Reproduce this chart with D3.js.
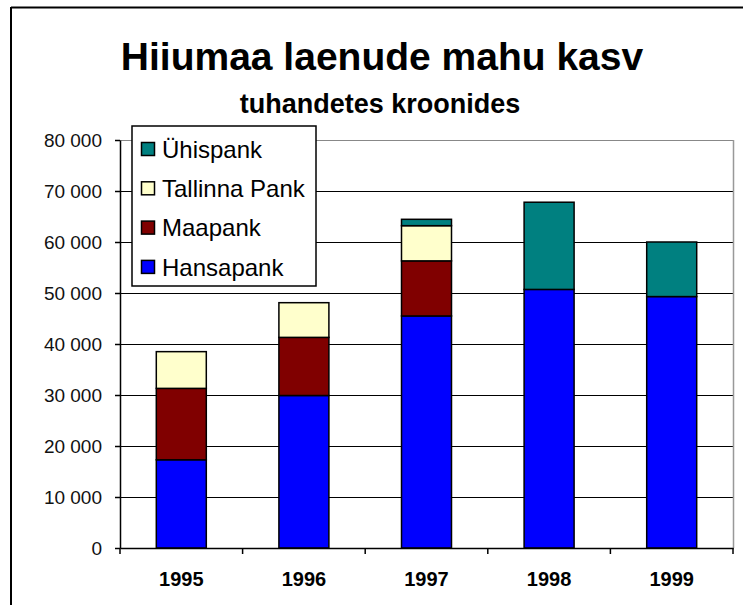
<!DOCTYPE html>
<html>
<head>
<meta charset="utf-8">
<script src="https://cdn.jsdelivr.net/npm/d3@7"></script>
<style>
  html, body { margin: 0; padding: 0; background: #fff; }
  svg { display: block; }
  text { font-family: "Liberation Sans", Arial, sans-serif; }
</style>
</head>
<body>
<svg id="chart" width="743" height="605"></svg>
<script>
const years = ["1995", "1996", "1997", "1998", "1999"];
const hansapank = [17300, 29900, 45500, 50700, 49300];
const maapank = [14000, 11400, 10800, 0, 0];
const tallinnaPank = [7200, 6800, 6900, 0, 0];
const yhispank = [0, 0, 1250, 17100, 10700];
const seriesNames = ["Hansapank", "Maapank", "Tallinna Pank", "Ühispank"];
const seriesColors = ["#0000ff", "#800000", "#ffffcc", "#008080"];
const yTicks = [0, 10000, 20000, 30000, 40000, 50000, 60000, 70000, 80000];
const titleText = "Hiiumaa laenude mahu kasv";
const subtitleText = "tuhandetes kroonides";

(function () {
const svg = d3.select("#chart");

// outer chart border (top and left visible)
svg.append("line").attr("x1", 11).attr("x2", 743).attr("y1", 7.5).attr("y2", 7.5)
  .attr("stroke", "#000").attr("stroke-width", 2);
svg.append("line").attr("x1", 11).attr("x2", 11).attr("y1", 7).attr("y2", 605)
  .attr("stroke", "#000").attr("stroke-width", 2);

const pLeft = 120, pRight = 733, pTop = 140, pBottom = 548;

const xOuter = d3.scaleBand().domain(years).range([pLeft, pRight]);
const y = d3.scaleLinear().domain([0, 80000]).range([pBottom, pTop]);

// gridlines
svg.append("g").selectAll("line").data(yTicks.filter(d => d > 0)).join("line")
  .attr("x1", pLeft).attr("x2", pRight)
  .attr("y1", d => Math.round(y(d)) + 0.5).attr("y2", d => Math.round(y(d)) + 0.5)
  .attr("stroke", d => d === 80000 ? "#888" : "#000").attr("stroke-width", 1.2);

// right plot border
svg.append("line").attr("x1", pRight + 0.5).attr("x2", pRight + 0.5).attr("y1", pTop).attr("y2", pBottom)
  .attr("stroke", "#999").attr("stroke-width", 1.5);

// stacked data
const rows = years.map((yr, i) => ({
  year: yr,
  "Hansapank": hansapank[i],
  "Maapank": maapank[i],
  "Tallinna Pank": tallinnaPank[i],
  "Ühispank": yhispank[i]
}));
const stack = d3.stack().keys(seriesNames)(rows);
const color = d3.scaleOrdinal().domain(seriesNames).range(seriesColors);

const bw = 50;
svg.append("g").selectAll("g").data(stack).join("g")
  .attr("fill", d => color(d.key))
  .selectAll("rect").data(d => d.filter(p => p[1] - p[0] > 0)).join("rect")
  .attr("x", d => xOuter(d.data.year) + xOuter.bandwidth() / 2 - bw / 2)
  .attr("width", bw)
  .attr("y", d => y(d[1]))
  .attr("height", d => y(d[0]) - y(d[1]))
  .attr("stroke", "#000").attr("stroke-width", 1.5);

// y axis
const yAxis = d3.axisLeft(y).tickValues(yTicks).tickSize(5).tickSizeOuter(0)
  .tickFormat(d => d3.format(",")(d).replace(/,/g, " "));
const ga = svg.append("g").attr("transform", `translate(${pLeft},0)`).call(yAxis);
ga.select(".domain").attr("stroke", "#000").attr("stroke-width", 1.5);
ga.selectAll(".tick line").attr("stroke", "#000").attr("stroke-width", 1.5);
ga.selectAll(".tick text").attr("x", -18).attr("font-size", 19).attr("fill", "#111")
  .style("font-family", "'Liberation Sans', Arial, sans-serif");

// x axis
const xAxis = d3.axisBottom(xOuter).tickSize(0).tickSizeOuter(0);
const gx = svg.append("g").attr("transform", `translate(0,${pBottom})`).call(xAxis);
gx.select(".domain").attr("stroke", "#000").attr("stroke-width", 1.5);
gx.selectAll(".tick text").attr("y", 38).attr("dy", null).attr("font-size", 20)
  .attr("font-weight", "bold").attr("fill", "#000")
  .style("font-family", "'Liberation Sans', Arial, sans-serif");
// category boundary ticks
const bounds = years.map(d => xOuter(d)).concat([pRight]);
svg.append("g").selectAll("line").data(bounds).join("line")
  .attr("x1", d => d).attr("x2", d => d).attr("y1", pBottom).attr("y2", pBottom + 6)
  .attr("stroke", "#000").attr("stroke-width", 1.5);

// titles
svg.append("text").attr("x", 382).attr("y", 70).attr("text-anchor", "middle")
  .attr("font-size", 39).attr("font-weight", "bold").text(titleText);
svg.append("text").attr("x", 380).attr("y", 113).attr("text-anchor", "middle")
  .attr("font-size", 27).attr("font-weight", "bold").text(subtitleText);

// legend
const lg = svg.append("g");
lg.append("rect").attr("x", 132).attr("y", 126).attr("width", 184).attr("height", 160)
  .attr("fill", "#fff").attr("stroke", "#000").attr("stroke-width", 1.5);
const legendOrder = seriesNames.slice().reverse();
const li = lg.selectAll("g").data(legendOrder).join("g")
  .attr("transform", (d, i) => `translate(141,${149 + i * 39.3})`);
li.append("rect").attr("x", 0.5).attr("y", -6.5).attr("width", 13).attr("height", 13)
  .attr("fill", d => color(d)).attr("stroke", "#000").attr("stroke-width", 1.5);
li.append("text").attr("x", 21).attr("y", 0).attr("dy", "0.36em")
  .attr("font-size", 24).attr("fill", "#000").text(d => d);
})();
</script>
</body>
</html>
